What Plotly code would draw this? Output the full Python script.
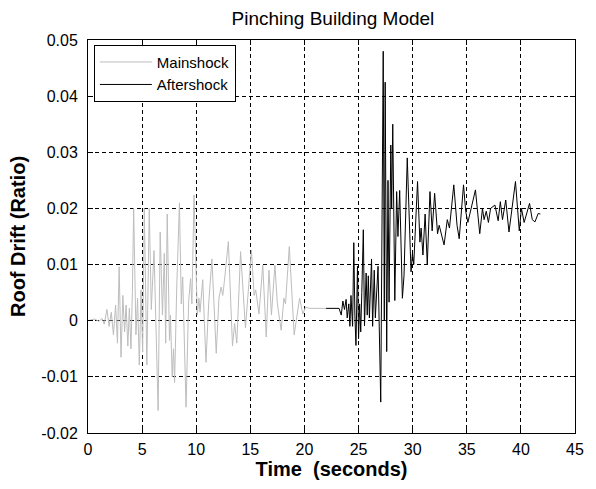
import plotly.graph_objects as go

# Roof drift time histories (time in s, drift ratio)
main_t = [0.0, 0.6, 1.0, 1.3, 1.5, 1.75, 1.95, 2.15, 2.35, 2.55, 2.72, 2.88, 3.05, 3.22,
          3.38, 3.52, 3.68, 3.82, 3.97, 4.1, 4.22, 4.43, 4.58, 4.74, 4.9, 5.05, 5.2, 5.44,
          5.66, 5.85, 6.1, 6.48, 6.67, 6.88, 7.05, 7.18, 7.32, 7.53, 7.62, 7.78, 7.9, 8.0,
          8.2, 8.45, 8.62, 8.75, 9.06, 9.3, 9.48, 9.6, 9.8, 10.1, 10.25, 10.35, 10.6, 10.9,
          11.15, 11.45, 11.85, 12.1, 12.3, 12.45, 12.6, 12.97, 13.35, 13.55, 13.75, 14.1,
          14.55, 15.1, 15.35, 15.5, 15.8, 16.15, 16.47, 16.72, 16.95, 17.27, 17.5, 17.85,
          18.1, 18.25, 18.6, 19.05, 19.55, 19.85, 20.1, 20.5, 22.0]
main_v = [0.0, 0.0003, -0.0001, 0.0004, -0.0006, 0.0020, -0.0010, 0.0015, -0.0025, 0.0028,
          -0.0040, 0.0096, -0.0065, 0.0045, -0.0020, 0.0028, -0.0045, 0.0022, -0.0050, 0.0050,
          0.0200, -0.0025, 0.0040, -0.0079, 0.0055, -0.0056, 0.0200, -0.0079, 0.0200, 0.0020,
          0.0125, -0.0160, 0.0158, 0.0010, 0.0120, -0.0040, 0.0190, -0.0035, 0.0010, -0.0100,
          -0.0050, -0.0110, 0.0060, 0.0210, 0.0030, 0.0078, -0.0154, 0.0035, 0.0075, 0.0030,
          0.0224, 0.0010, 0.0040, 0.0015, 0.0073, -0.0074, 0.0030, 0.0110, -0.0058, 0.0040,
          0.0060, 0.0045, 0.0070, 0.0141, -0.0045, -0.0005, -0.0040, 0.0123, -0.0013, 0.0126,
          0.0045, 0.0055, 0.0012, 0.0099, -0.0029, 0.0090, 0.0010, 0.0099, 0.0030, -0.0017,
          0.0040, 0.0030, 0.0132, -0.0025, 0.0040, 0.0012, 0.0024, 0.0022, 0.0022]

after_t = [22.0, 23.2, 23.4, 23.55, 23.7, 23.85, 23.95, 24.1, 24.2, 24.3, 24.45, 24.56, 24.66,
           24.76, 24.9, 25.0, 25.1, 25.2, 25.3, 25.44, 25.55, 25.7, 25.8, 25.9, 26.0, 26.2,
           26.3, 26.45, 26.55, 26.8, 27.05, 27.28, 27.38, 27.46, 27.6, 27.72, 27.82, 27.98,
           28.06, 28.16, 28.35, 28.52, 28.64, 28.8, 29.05, 29.2, 29.5, 29.85, 29.98, 30.1, 30.45,
           30.67, 30.78, 30.95, 31.15, 31.35, 31.6, 31.8, 32.03, 32.3, 32.45, 32.9, 33.2, 33.4,
           33.8, 34.1, 34.3, 34.7, 34.9, 35.1, 35.8, 36.2, 36.45, 36.6, 36.8, 37.0, 37.2,
           37.6, 37.9, 38.1, 38.3, 38.6, 38.9, 39.5, 39.85, 40.05, 40.3, 40.8, 41.05, 41.3,
           41.6, 41.8]
after_v = [0.0022, 0.0022, 0.0010, 0.0035, 0.0020, 0.0038, 0.0005, 0.0030, -0.0010, 0.0045,
           -0.0010, 0.0139, 0.0010, -0.0044, 0.0097, -0.0032, 0.0030, -0.0020, 0.0050, 0.0162,
           -0.0009, 0.0085, 0.0010, 0.0080, 0.0005, 0.0110, -0.0010, 0.0090, 0.0005, 0.0097,
           -0.0145, 0.0480, 0.0000, 0.0425, -0.0055, 0.0250, 0.0033, 0.0313, 0.0200, 0.0350,
           0.0036, 0.0230, 0.0150, 0.0232, 0.0040, 0.0080, 0.0290, 0.0087, 0.0120, 0.0100,
           0.0248, 0.0140, 0.0165, 0.0117, 0.0190, 0.0100, 0.0230, 0.0160, 0.0227, 0.0155,
           0.0170, 0.0135, 0.0180, 0.0165, 0.0242, 0.0170, 0.0146, 0.0242, 0.0195, 0.0175,
           0.0233, 0.0155, 0.0200, 0.0180, 0.0195, 0.0175, 0.0200, 0.0206, 0.0178, 0.0212,
           0.0180, 0.0215, 0.0158, 0.0248, 0.0160, 0.0200, 0.0175, 0.0209, 0.0180, 0.0176,
           0.0191, 0.0190]

x_ticks = [0, 5, 10, 15, 20, 25, 30, 35, 40, 45]
y_ticks = [-0.02, -0.01, 0, 0.01, 0.02, 0.03, 0.04, 0.05]
y_tick_labels = ["-0.02", "-0.01", "0", "0.01", "0.02", "0.03", "0.04", "0.05"]

FONT = "Arial, Liberation Sans, sans-serif"

fig = go.Figure()
fig.add_trace(go.Scatter(x=main_t, y=main_v, mode="lines", name="Mainshock",
                         line=dict(color="#bdbdbd", width=1)))
fig.add_trace(go.Scatter(x=after_t, y=after_v, mode="lines", name="Aftershock",
                         line=dict(color="#000000", width=1)))

axis_common = dict(
    showline=True, linecolor="black", linewidth=1, mirror="ticks",
    ticks="inside", ticklen=5, tickcolor="black",
    showgrid=True, gridcolor="black", gridwidth=1, griddash="4px,3px",
    zeroline=False, tickfont=dict(family=FONT, size=16, color="black"),
)

fig.update_layout(
    width=596, height=489,
    margin=dict(l=88, r=18, t=40, b=56),
    paper_bgcolor="white", plot_bgcolor="white",
    title=dict(text="Pinching Building Model", x=0.5586, xanchor="center",
               y=0.963, yanchor="middle",
               font=dict(family=FONT, size=19, color="black")),
    xaxis=dict(range=[0, 45], tickvals=x_ticks, ticklabelstandoff=2,
               title=dict(text="<b>Time \u00a0(seconds)</b>", standoff=4,
                          font=dict(family=FONT, size=20, color="black")),
               **axis_common),
    yaxis=dict(range=[-0.02, 0.05], tickvals=y_ticks, ticktext=y_tick_labels,
               ticklabelstandoff=6,
               title=dict(text="<b>Roof Drift (Ratio)</b>", standoff=10,
                          font=dict(family=FONT, size=20, color="black")),
               **axis_common),
    legend=dict(x=0.012, y=0.988, xanchor="left", yanchor="top",
                bgcolor="white", bordercolor="black", borderwidth=1,
                font=dict(family=FONT, size=15, color="black"),
                tracegroupgap=0, itemwidth=52),
    showlegend=True,
)

fig.write_html("out.html")
